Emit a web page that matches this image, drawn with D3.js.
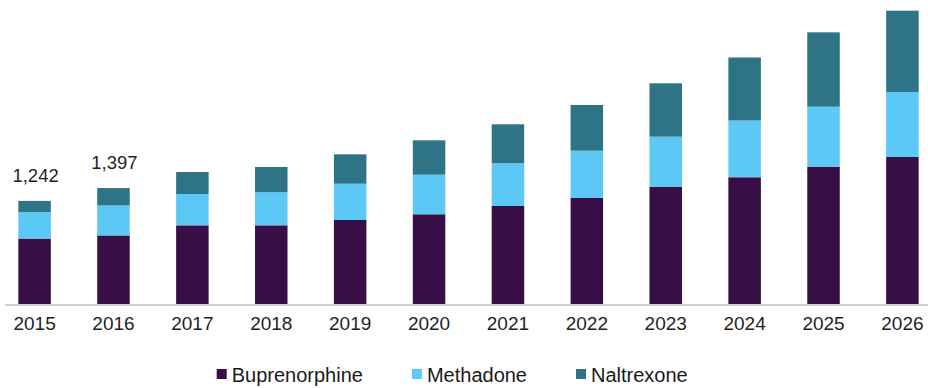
<!DOCTYPE html>
<html>
<head>
<meta charset="utf-8">
<script src="https://cdn.jsdelivr.net/npm/d3@7/dist/d3.min.js"></script>
<style>
  html, body { margin: 0; padding: 0; background: #ffffff; }
  svg { display: block; font-family: "Liberation Sans", Arial, sans-serif; }
</style>
</head>
<body>
<svg id="chart" width="928" height="388"></svg>
<script>
// Market size by drug type, 2015-2026
const years = ["2015", "2016", "2017", "2018", "2019", "2020", "2021", "2022", "2023", "2024", "2025", "2026"];
const buprenorphine = [788, 826, 948, 948, 1012, 1081, 1181, 1277, 1410, 1527, 1654, 1771];
const methadone     = [318, 362, 377, 398, 437, 477, 514, 570, 606, 684, 723, 783];
const naltrexone    = [136, 209, 265, 305, 354, 414, 470, 551, 643, 759, 896, 980];
const seriesNames = ["Buprenorphine", "Methadone", "Naltrexone"];
const seriesColors = ["#380e46", "#5bc8f5", "#2e7486"];
// Totals printed above the first two bars
const labelledYears = ["2015", "2016"];

const svg = d3.select("#chart");

const rows = years.map((y, i) => ({
  year: y,
  Buprenorphine: buprenorphine[i],
  Methadone: methadone[i],
  Naltrexone: naltrexone[i]
}));

const x = d3.scaleBand()
  .domain(years)
  .range([5, 932])
  .paddingInner(0.588)
  .paddingOuter(0.169);

const baseline = 304;
const y = d3.scaleLinear()
  .domain([0, 3600])
  .range([baseline, baseline - 3600 * 0.083]);

const color = d3.scaleOrdinal().domain(seriesNames).range(seriesColors);

const stacked = d3.stack().keys(seriesNames)(rows);

// Stacked bars
svg.append("g")
  .selectAll("g")
  .data(stacked)
  .join("g")
  .attr("fill", d => color(d.key))
  .selectAll("rect")
  .data(d => d)
  .join("rect")
  .attr("x", d => x(d.data.year))
  .attr("width", x.bandwidth())
  .attr("y", d => y(d[1]))
  .attr("height", d => y(d[0]) - y(d[1]));

// Baseline axis with year labels
const xAxis = d3.axisBottom(x).tickSize(0).tickPadding(12);
const axisG = svg.append("g")
  .attr("transform", `translate(0,${baseline + 1})`)
  .call(xAxis);
axisG.select(".domain").remove();
axisG.append("line")
  .attr("x1", 5).attr("x2", 928)
  .attr("y1", 0).attr("y2", 0)
  .attr("stroke", "#a6a6a6")
  .attr("stroke-width", 1.2);
axisG.selectAll(".tick text")
  .attr("font-size", 19)
  .attr("font-family", "'Liberation Sans', Arial, sans-serif")
  .attr("fill", "#1f1f1f");

// Total labels
const fmt = d3.format(",");
svg.append("g")
  .selectAll("text")
  .data(rows.filter(r => labelledYears.includes(r.year)))
  .join("text")
  .attr("x", d => x(d.year) + x.bandwidth() / 2 + 1)
  .attr("y", d => y(d.Buprenorphine + d.Methadone + d.Naltrexone) - 19)
  .attr("text-anchor", "middle")
  .attr("font-size", 18.5)
  .attr("fill", "#1f1f1f")
  .text(d => fmt(d.Buprenorphine + d.Methadone + d.Naltrexone));

// Legend
const legend = svg.append("g").attr("transform", "translate(216.7,369)");
let lx = 0;
seriesNames.forEach(name => {
  const item = legend.append("g").attr("transform", `translate(${lx},0)`);
  item.append("rect")
    .attr("width", 10).attr("height", 10)
    .attr("fill", color(name));
  const t = item.append("text")
    .attr("x", 15)
    .attr("y", 12.7)
    .attr("font-size", 20)
    .attr("fill", "#1a1a1a")
    .text(name);
  lx += 15 + t.node().getComputedTextLength() + 49;
});
</script>
</body>
</html>
